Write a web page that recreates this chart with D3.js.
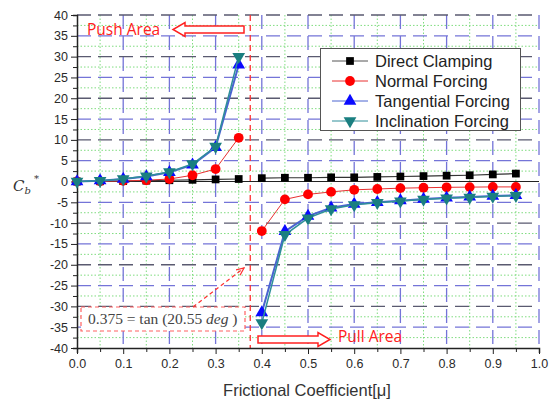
<!DOCTYPE html>
<html>
<head>
<meta charset="utf-8">
<script src="https://cdn.jsdelivr.net/npm/d3@7"></script>
<style>
  body { margin: 0; background: #fff; }
  svg { display: block; }
  .tick text { font-family: "Liberation Sans", Arial, sans-serif; font-size: 12.5px; fill: #2a2a2a; }
</style>
</head>
<body>
<div id="graph1"></div>
<script>
// data; the curves break at mu = 0.375
var xPush = [0, 0.05, 0.1, 0.15, 0.2, 0.25, 0.3, 0.35];
var xPull = [0.4, 0.45, 0.5, 0.55, 0.6, 0.65, 0.7, 0.75, 0.8, 0.85, 0.9, 0.95];

var directPush = [0, 0.05, 0.1, 0.2, 0.3, 0.4, 0.5, 0.6];
var directPull = [0.8, 0.9, 0.9, 1.0, 1.0, 1.1, 1.2, 1.3, 1.4, 1.5, 1.7, 1.9];

var normalPush = [0, 0.05, 0.15, 0.3, 0.6, 1.5, 3.0, 10.5];
var normalPull = [-11.9, -4.3, -3.1, -2.5, -2.0, -1.8, -1.6, -1.5, -1.4, -1.35, -1.3, -1.3];

var tangentialPush = [0, 0.2, 0.6, 1.2, 2.2, 4.0, 8.2, 28];
var tangentialPull = [-31.5, -12.0, -8.3, -6.3, -5.4, -5.0, -4.6, -4.2, -3.9, -3.7, -3.5, -3.3];

var inclinationPush = [0, 0.2, 0.6, 1.3, 2.3, 4.2, 8.4, 30];
var inclinationPull = [-34, -12.8, -8.8, -6.6, -5.6, -5.1, -4.7, -4.3, -4.0, -3.8, -3.6, -3.4];

var seriesNames = ["Direct Clamping", "Normal Forcing", "Tangential Forcing", "Inclination Forcing"];

var xTicks = [0, 0.1, 0.2, 0.3, 0.4, 0.5, 0.6, 0.7, 0.8, 0.9, 1.0];
var yTicks = [-40, -35, -30, -25, -20, -15, -10, -5, 0, 5, 10, 15, 20, 25, 30, 35, 40];
var boundary = 0.375;

var width = 553, height = 401;
var margin = {top: 15, right: 14, bottom: 53, left: 77};

var svg = d3.select("#graph1").append("svg")
    .attr("width", width)
    .attr("height", height);

var xScale = d3.scaleLinear().domain([0, 1]).range([margin.left, width - margin.right]);
var yScale = d3.scaleLinear().domain([-40, 40]).range([height - margin.bottom, margin.top]);

var x0 = xScale(0), x1 = xScale(1), yTop = yScale(40), yBot = yScale(-40);

// minor grid, green dotted
var minorX = d3.range(0.05, 1, 0.1);
var minorY = d3.range(-37.5, 40, 5);
svg.append("g").selectAll("line")
    .data(minorX)
    .enter().append("line")
    .attr("x1", function(d) { return xScale(d); })
    .attr("x2", function(d) { return xScale(d); })
    .attr("y1", yTop).attr("y2", yBot)
    .attr("stroke", "#7fdc7f").attr("stroke-width", 1)
    .attr("stroke-dasharray", "1.5,2");
svg.append("g").selectAll("line")
    .data(minorY)
    .enter().append("line")
    .attr("x1", x0).attr("x2", x1)
    .attr("y1", function(d) { return yScale(d); })
    .attr("y2", function(d) { return yScale(d); })
    .attr("stroke", "#7fdc7f").attr("stroke-width", 1)
    .attr("stroke-dasharray", "1.5,2");

// major grid, long dashes
svg.append("g").selectAll("line")
    .data(xTicks.slice(1))
    .enter().append("line")
    .attr("x1", function(d) { return xScale(d); })
    .attr("x2", function(d) { return xScale(d); })
    .attr("y1", yTop).attr("y2", yBot)
    .attr("stroke", "#7474d8").attr("stroke-width", 1.3)
    .attr("stroke-dasharray", "14,7");
svg.append("g").selectAll("line")
    .data(yTicks.filter(function(d) { return d !== 0 && d !== -40; }))
    .enter().append("line")
    .attr("x1", x0).attr("x2", x1)
    .attr("y1", function(d) { return yScale(d); })
    .attr("y2", function(d) { return yScale(d); })
    .attr("stroke", function(d) { return d % 10 === 0 ? "#5a5a70" : "#7474d8"; })
    .attr("stroke-width", 1.3)
    .attr("stroke-dasharray", "14,7");

// zero line
svg.append("line")
    .attr("x1", x0).attr("x2", x1)
    .attr("y1", yScale(0)).attr("y2", yScale(0))
    .attr("stroke", "#222").attr("stroke-width", 1.2);

// boundary at mu = 0.375
svg.append("line")
    .attr("x1", xScale(boundary)).attr("x2", xScale(boundary))
    .attr("y1", yTop).attr("y2", yBot)
    .attr("stroke", "#ff3030").attr("stroke-width", 1.3)
    .attr("stroke-dasharray", "6,4");

// axes
var xAxis = d3.axisBottom(xScale).tickValues(d3.range(0, 1.001, 0.05)).tickSize(5)
    .tickFormat(function(d) { return Math.round(d * 100) % 10 === 0 ? d3.format(".1f")(d) : ""; });
var yAxis = d3.axisLeft(yScale).tickValues(d3.range(-40, 40.1, 2.5)).tickSize(4)
    .tickFormat(function(d) { return d % 5 === 0 ? d : ""; });

var gx = svg.append("g")
    .attr("class", "x axis")
    .attr("transform", "translate(0," + yBot + ")")
    .call(xAxis);
gx.selectAll(".tick line").attr("stroke", "#222")
    .attr("y2", function(d) { return Math.round(d * 100) % 10 === 0 ? 6 : 4; });
gx.select(".domain").attr("stroke", "#222").attr("stroke-width", 1.5);
gx.selectAll(".tick text").attr("y", 11);

var gy = svg.append("g")
    .attr("class", "y axis")
    .attr("transform", "translate(" + x0 + ",0)")
    .call(yAxis);
gy.selectAll(".tick line").attr("stroke", "#222")
    .attr("x2", function(d) { return d % 5 === 0 ? -6 : -4; });
gy.select(".domain").attr("stroke", "#222").attr("stroke-width", 1.5);
gy.selectAll(".tick text").attr("x", -9);

// axis titles
svg.append("text")
    .attr("x", 307)
    .attr("y", 396)
    .attr("text-anchor", "middle")
    .style("font-family", "Liberation Sans, Arial, sans-serif")
    .style("font-size", "16.5px")
    .style("fill", "#333")
    .text("Frictional Coefficient[\u03bc]");

var cb = svg.append("text")
    .attr("x", 13)
    .attr("y", 191)
    .style("font-family", "DejaVu Serif, Liberation Serif, serif")
    .style("font-style", "italic")
    .style("font-size", "15px")
    .style("fill", "#333");
cb.append("tspan").text("C");
cb.append("tspan").attr("dy", 3).style("font-size", "10px").text("b");
cb.append("tspan").attr("dx", 3).attr("dy", -12).style("font-size", "10px").style("font-style", "normal").text("*");

// series
var series = [
    {name: seriesNames[0], push: directPush, pull: directPull, line: "#333", width: 1.2, fill: "#000", shape: d3.symbolSquare, size: 60, rot: 0},
    {name: seriesNames[1], push: normalPush, pull: normalPull, line: "#e83030", width: 1, fill: "#f00", shape: d3.symbolCircle, size: 75, rot: 0},
    {name: seriesNames[2], push: tangentialPush, pull: tangentialPull, line: "#4a64d0", width: 2, fill: "#0a0aff", shape: d3.symbolTriangle, size: 70, rot: 0},
    {name: seriesNames[3], push: inclinationPush, pull: inclinationPull, line: "#2f8f9a", width: 1.5, fill: "#1a7f80", shape: d3.symbolTriangle, size: 70, rot: 180}
];

var line = d3.line()
    .x(function(d) { return xScale(d[0]); })
    .y(function(d) { return yScale(d[1]); });

series.forEach(function(s) {
    var pushPts = xPush.map(function(x, i) { return [x, s.push[i]]; });
    var pullPts = xPull.map(function(x, i) { return [x, s.pull[i]]; });
    [pushPts, pullPts].forEach(function(pts) {
        svg.append("path")
            .datum(pts)
            .attr("fill", "none")
            .attr("stroke", s.line)
            .attr("stroke-width", s.width)
            .attr("d", line);
    });
    svg.append("g").selectAll("path")
        .data(pushPts.concat(pullPts))
        .enter().append("path")
        .attr("d", d3.symbol().type(s.shape).size(s.size))
        .attr("transform", function(d) {
            return "translate(" + xScale(d[0]) + "," + yScale(d[1]) + ") rotate(" + s.rot + ")";
        })
        .attr("fill", s.fill);
});

// legend
var legend = svg.append("g");
legend.append("rect")
    .attr("x", 320.5).attr("y", 48.5)
    .attr("width", 200).attr("height", 82)
    .attr("fill", "#fff").attr("stroke", "#555").attr("stroke-width", 1);
series.forEach(function(s, i) {
    var ly = 61 + i * 20;
    legend.append("line")
        .attr("x1", 332).attr("x2", 368)
        .attr("y1", ly).attr("y2", ly)
        .attr("stroke", i === 0 ? "#555" : s.line).attr("stroke-width", 1);
    legend.append("path")
        .attr("d", d3.symbol().type(s.shape).size(s.size))
        .attr("transform", "translate(350," + ly + ") rotate(" + s.rot + ")")
        .attr("fill", s.fill);
    legend.append("text")
        .attr("x", 375).attr("y", ly + 6)
        .style("font-family", "Liberation Sans, Arial, sans-serif")
        .style("font-size", "16.5px")
        .style("fill", "#222")
        .text(s.name);
});

// push / pull arrows
function hollowArrow(xTail, xTip, yc) {
    var dir = xTip > xTail ? 1 : -1;
    var head = 12, half = 7, shaft = 3.5;
    var xb = xTip - dir * head;
    return "M" + xTail + "," + (yc - shaft) + "L" + xb + "," + (yc - shaft) + "L" + xb + "," + (yc - half) +
        "L" + xTip + "," + yc + "L" + xb + "," + (yc + half) + "L" + xb + "," + (yc + shaft) +
        "L" + xTail + "," + (yc + shaft) + "Z";
}
svg.append("path")
    .attr("d", hollowArrow(244, 173, 29.5))
    .attr("fill", "#fff").attr("stroke", "#ff2020").attr("stroke-width", 1.5);
svg.append("text")
    .attr("x", 87).attr("y", 35)
    .style("font-family", "Open Sans, Liberation Sans, sans-serif")
    .style("font-size", "15.5px")
    .style("fill", "#ff2020")
    .text("Push Area");

svg.append("path")
    .attr("d", hollowArrow(258, 330, 339.5))
    .attr("fill", "#fff").attr("stroke", "#ff2020").attr("stroke-width", 1.5);
svg.append("text")
    .attr("x", 338).attr("y", 342)
    .style("font-family", "Open Sans, Liberation Sans, sans-serif")
    .style("font-size", "15.5px")
    .style("fill", "#ff2020")
    .text("Pull Area");

// annotation box
svg.append("rect")
    .attr("x", 81).attr("y", 307)
    .attr("width", 164).attr("height", 24)
    .attr("fill", "#fff").attr("stroke", "#ff6060").attr("stroke-width", 1.2)
    .attr("stroke-dasharray", "4,3");
var ann = svg.append("text")
    .attr("x", 88).attr("y", 324)
    .style("font-family", "Liberation Serif, DejaVu Serif, serif")
    .style("font-size", "15.5px")
    .style("fill", "#444");
ann.append("tspan").text("0.375 = tan (20.55 ");
ann.append("tspan").style("font-style", "italic").text("deg");
ann.append("tspan").text(" )");

svg.append("defs").append("marker")
    .attr("id", "arr")
    .attr("viewBox", "0 0 10 10")
    .attr("refX", 9).attr("refY", 5)
    .attr("markerWidth", 7).attr("markerHeight", 7)
    .attr("orient", "auto")
    .append("path")
    .attr("d", "M0,1 L9,5 L0,9")
    .attr("fill", "none").attr("stroke", "#ff3030").attr("stroke-width", 1.5);
svg.append("line")
    .attr("x1", 193).attr("y1", 307)
    .attr("x2", 244).attr("y2", 268)
    .attr("stroke", "#ff3030").attr("stroke-width", 1.2)
    .attr("stroke-dasharray", "4,3")
    .attr("marker-end", "url(#arr)");
</script>
</body>
</html>
